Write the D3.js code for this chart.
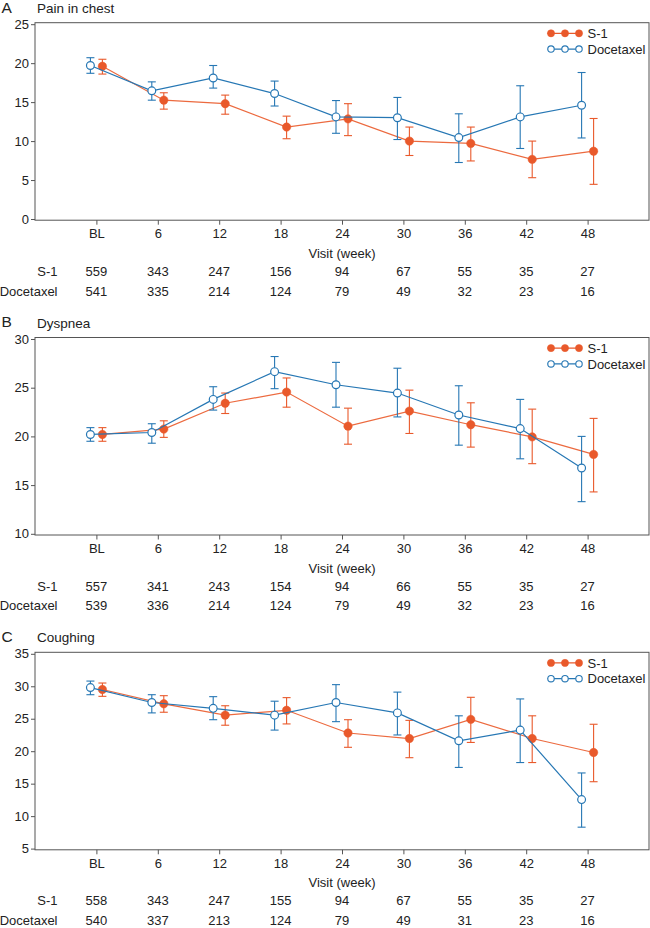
<!DOCTYPE html>
<html>
<head>
<meta charset="utf-8">
<script src="https://cdn.jsdelivr.net/npm/d3@7"></script>
<style>
  html, body { margin: 0; padding: 0; background: #fff; }
  svg { display: block; font-family: "Liberation Sans", Arial, Helvetica, sans-serif; }
</style>
</head>
<body>
<svg id="chart" width="650" height="928"></svg>
<script>
// ---------- data ----------
const weeks = ["BL", "6", "12", "18", "24", "30", "36", "42", "48"];
const seriesNames = ["S-1", "Docetaxel"];
const panelLetters = ["A", "B", "C"];
const panelTitles = ["Pain in chest", "Dyspnea", "Coughing"];
const yDomains = [[0, 25], [10, 30], [5, 35]];

// Pain in chest
const painS1    = [19.6, 15.25, 14.8, 11.8, 12.85, 10.0, 9.7, 7.65, 8.7];
const painS1Lo  = [18.6, 14.1, 13.45, 10.3, 10.7, 8.15, 7.45, 5.3, 4.45];
const painS1Hi  = [20.5, 16.2, 15.9, 13.2, 14.8, 11.8, 11.8, 10.0, 12.9];
const painDoc   = [19.7, 16.45, 18.1, 16.1, 13.1, 13.0, 10.45, 13.1, 14.6];
const painDocLo = [18.7, 15.25, 16.8, 14.5, 11.0, 10.2, 7.25, 9.05, 10.4];
const painDocHi = [20.7, 17.6, 19.7, 17.7, 15.2, 15.6, 13.5, 17.1, 18.8];

// Dyspnea
const dysS1    = [20.2, 20.75, 23.4, 24.55, 21.05, 22.6, 21.2, 19.95, 18.15];
const dysS1Lo  = [19.5, 19.9, 22.35, 23.0, 19.2, 20.3, 18.9, 17.2, 14.3];
const dysS1Hi  = [20.9, 21.6, 24.45, 26.0, 22.9, 24.75, 23.45, 22.8, 21.85];
const dysDoc   = [20.2, 20.4, 23.8, 26.65, 25.3, 24.45, 22.2, 20.8, 16.75];
const dysDocLo = [19.5, 19.3, 22.7, 24.9, 23.0, 22.0, 19.1, 17.7, 13.3];
const dysDocHi = [20.9, 21.3, 25.1, 28.2, 27.6, 27.0, 25.2, 23.8, 20.0];

// Coughing
const coughS1    = [29.5, 27.3, 25.55, 26.3, 22.8, 21.95, 24.9, 21.95, 19.8];
const coughS1Lo  = [28.45, 26.0, 24.0, 24.2, 20.6, 19.0, 21.35, 18.25, 15.3];
const coughS1Hi  = [30.5, 28.55, 27.0, 28.25, 24.85, 24.75, 28.3, 25.45, 24.15];
const coughDoc   = [29.8, 27.5, 26.6, 25.55, 27.5, 25.9, 21.6, 23.25, 12.55];
const coughDocLo = [28.7, 25.9, 24.85, 23.25, 24.55, 22.5, 17.5, 18.25, 8.3];
const coughDocHi = [30.8, 28.7, 28.4, 27.7, 30.25, 29.1, 25.45, 28.05, 16.65];

// Numbers at risk
const painNS1   = [559, 343, 247, 156, 94, 67, 55, 35, 27];
const painNDoc  = [541, 335, 214, 124, 79, 49, 32, 23, 16];
const dysNS1    = [557, 341, 243, 154, 94, 66, 55, 35, 27];
const dysNDoc   = [539, 336, 214, 124, 79, 49, 32, 23, 16];
const coughNS1  = [558, 343, 247, 155, 94, 67, 55, 35, 27];
const coughNDoc = [540, 337, 213, 124, 79, 49, 31, 23, 16];

// ---------- build ----------
const panels = [
  { s1: [painS1, painS1Lo, painS1Hi], doc: [painDoc, painDocLo, painDocHi], n: [painNS1, painNDoc] },
  { s1: [dysS1, dysS1Lo, dysS1Hi],    doc: [dysDoc, dysDocLo, dysDocHi],    n: [dysNS1, dysNDoc] },
  { s1: [coughS1, coughS1Lo, coughS1Hi], doc: [coughDoc, coughDocLo, coughDocHi], n: [coughNS1, coughNDoc] }
];

const ORANGE = "#E9592B";
const ORANGE_LINE = "#EC6A3F";
const BLUE = "#2677B4";
const TEXT = "#222";
const AXIS = "#555";

const svg = d3.select("#chart");
const left = 35, right = 649;
const x = d3.scaleLinear().domain([-1, 9]).range([left, right]);
const dodge = 6;

panels.forEach((p, i) => {
  const top = 22.7 + i * 314.8;
  const bottom = top + 197.5;
  const g = svg.append("g");
  const y = d3.scaleLinear().domain(yDomains[i]).range([bottom - 1.2, top + 1.5]);

  // panel letter and title
  g.append("text").attr("x", 1.5).attr("y", top - 10.2)
    .attr("font-size", 15.5).attr("fill", TEXT).text(panelLetters[i]);
  g.append("text").attr("x", 37).attr("y", top - 10)
    .attr("font-size", 13.5).attr("fill", TEXT).text(panelTitles[i]);

  // y axis
  const ya = g.append("g").attr("transform", `translate(${left},0)`)
    .call(d3.axisLeft(y).tickValues(d3.range(yDomains[i][0], yDomains[i][1] + 0.1, 5)).tickSize(4).tickPadding(2));
  ya.select(".domain").remove();
  ya.selectAll("line").attr("stroke", AXIS);
  ya.selectAll("text").attr("font-size", 13).attr("fill", TEXT).attr("font-family", "Liberation Sans, Arial, sans-serif");

  // x axis
  const xa = g.append("g").attr("transform", `translate(0,${bottom})`)
    .call(d3.axisBottom(x).tickValues(d3.range(0, 9)).tickFormat(d => weeks[d]).tickSize(4.5).tickPadding(4));
  xa.select(".domain").remove();
  xa.selectAll("line").attr("stroke", AXIS);
  xa.selectAll("text").attr("font-size", 13).attr("fill", TEXT).attr("font-family", "Liberation Sans, Arial, sans-serif");

  // box
  g.append("rect").attr("x", left).attr("y", top).attr("width", right - left).attr("height", bottom - top)
    .attr("fill", "none").attr("stroke", AXIS).attr("stroke-width", 1);

  // x label
  g.append("text").attr("x", (left + right) / 2).attr("y", bottom + 37.5)
    .attr("text-anchor", "middle").attr("font-size", 13).attr("fill", TEXT).text("Visit (week)");

  // series
  const drawSeries = (vals, off, color, lineColor, filled) => {
    const [m, lo, hi] = vals;
    const pts = m.map((v, k) => ({ k, v, lo: lo[k], hi: hi[k] }));
    const line = d3.line().x(d => x(d.k) + off).y(d => y(d.v));
    g.append("path").datum(pts).attr("d", line).attr("fill", "none")
      .attr("stroke", lineColor).attr("stroke-width", 1.2);
    const eb = g.append("g").attr("stroke", color).attr("stroke-width", 1.1).attr("fill", "none");
    pts.forEach(d => {
      const cx = x(d.k) + off;
      eb.append("line").attr("x1", cx).attr("x2", cx).attr("y1", y(d.lo)).attr("y2", y(d.hi));
      eb.append("line").attr("x1", cx - 4).attr("x2", cx + 4).attr("y1", y(d.lo)).attr("y2", y(d.lo));
      eb.append("line").attr("x1", cx - 4).attr("x2", cx + 4).attr("y1", y(d.hi)).attr("y2", y(d.hi));
    });
    g.append("g").selectAll("circle").data(pts).join("circle")
      .attr("cx", d => x(d.k) + off).attr("cy", d => y(d.v))
      .attr("r", filled ? 4.2 : 3.9)
      .attr("fill", filled ? color : "#fff")
      .attr("stroke", color).attr("stroke-width", filled ? 0.5 : 1.2);
  };
  drawSeries(p.s1, dodge, ORANGE, ORANGE_LINE, true);
  drawSeries(p.doc, -dodge, BLUE, BLUE, false);

  // legend
  const lg = g.append("g");
  const legendRows = [
    { name: seriesNames[0], color: ORANGE, filled: true, dy: 10.6 },
    { name: seriesNames[1], color: BLUE, filled: false, dy: 26.4 }
  ];
  legendRows.forEach(r => {
    const ly = top + r.dy;
    lg.append("line").attr("x1", 547.5).attr("x2", 582).attr("y1", ly).attr("y2", ly)
      .attr("stroke", r.color).attr("stroke-width", 1.2);
    [551, 565, 579].forEach(cx => {
      lg.append("circle").attr("cx", cx).attr("cy", ly).attr("r", r.filled ? 3.6 : 3.2)
        .attr("fill", r.filled ? r.color : "#fff").attr("stroke", r.color)
        .attr("stroke-width", r.filled ? 0.5 : 1.1);
    });
    lg.append("text").attr("x", 587.5).attr("y", ly + 4.6).attr("font-size", 13)
      .attr("fill", TEXT).text(r.name);
  });

  // numbers at risk
  p.n.forEach((row, j) => {
    const ty = bottom + 55.5 + j * 19.8;
    g.append("text").attr("x", 57.5).attr("y", ty).attr("text-anchor", "end")
      .attr("font-size", 13).attr("fill", TEXT).text(seriesNames[j]);
    g.append("g").selectAll("text").data(row).join("text")
      .attr("x", (d, k) => x(k)).attr("y", ty).attr("text-anchor", "middle")
      .attr("font-size", 13).attr("fill", TEXT).text(d => d);
  });
});
</script>
</body>
</html>
